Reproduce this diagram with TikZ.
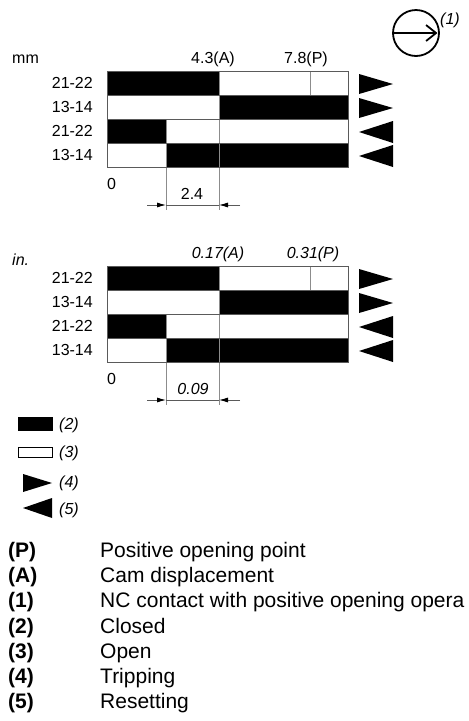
\documentclass[tikz,border=0pt]{standalone}
\usepackage{fontspec}
\setmainfont{Liberation Sans}
\usetikzlibrary{arrows.meta}
\definecolor{gridc}{RGB}{90,90,90}
\definecolor{sepc}{RGB}{140,140,140}
\begin{document}
\begin{tikzpicture}[x=1pt,y=-1pt,
  lbl/.style={font=\fontsize{16}{16}\selectfont, inner sep=0pt},
  ilbl/.style={font=\fontsize{16}{16}\selectfont\itshape, inner sep=0pt},
  leg/.style={font=\fontsize{21}{21}\selectfont, inner sep=0pt, anchor=base west},
  legb/.style={font=\fontsize{21}{21}\selectfont\bfseries, inner sep=0pt, anchor=base west},
  barline/.style={draw=gridc, line width=0.9pt},
  sepline/.style={draw=sepc, line width=0.9pt},
  dimline/.style={draw=gridc, line width=0.8pt},
  dimtip/.style={dimline, -{Latex[length=9pt,width=5pt,color=black]}},
  tri/.style={fill=black}
]
\useasboundingbox (0,0) rectangle (469,721);

% ---------- symbol (1)
\node[draw=black, line width=1.8pt, circle, minimum size=46pt, inner sep=0pt] (sym) at (416,33) {};
\coordinate (symL) at (394,33);
\coordinate (symR) at (437.5,33);
\draw[line width=1.8pt, -{Straight Barb[length=10pt,width=16pt,line width=1.8pt]}] (symL) -- (symR);
\node[ilbl, anchor=base west] (s1) at (440,24) {(1)};

% ---------- charts
\foreach \o/\pre in {0/a, 195/b}{
  \fill[black] (107,71+\o) rectangle (219,95+\o);
  \fill[black] (219,95+\o) rectangle (348,119+\o);
  \fill[black] (107,119+\o) rectangle (166,143+\o);
  \fill[black] (166,143+\o) rectangle (348,167+\o);
  \draw[sepline] (310,71+\o) -- (310,95+\o);
  \draw[sepline] (219,71+\o) -- (219,210+\o);
  \draw[sepline] (166,119+\o) -- (166,210+\o);
  \draw[barline] (107,95+\o) -- (348,95+\o);
  \draw[barline] (107,119+\o) -- (348,119+\o);
  \draw[barline] (107,143+\o) -- (348,143+\o);
  \draw[barline] (107,71+\o) rectangle (348,167+\o);
  \fill[black] (359,74+\o) -- (393,84+\o) -- (359,94+\o) -- cycle;
  \fill[black] (359,98+\o) -- (393,108+\o) -- (359,118+\o) -- cycle;
  \fill[black] (393,121+\o) -- (359,132+\o) -- (393,143+\o) -- cycle;
  \fill[black] (393,145+\o) -- (359,156+\o) -- (393,167+\o) -- cycle;
  \node[lbl, anchor=base east] (\pre r1) at (93,88.7+\o) {21-22};
  \node[lbl, anchor=base east] (\pre r2) at (93,112.7+\o) {13-14};
  \node[lbl, anchor=base east] (\pre r3) at (93,136.7+\o) {21-22};
  \node[lbl, anchor=base east] (\pre r4) at (93,160.7+\o) {13-14};
  \node[lbl, anchor=base west] (\pre zero) at (107,189+\o) {0};
  \coordinate (\pre dl) at (147,205+\o);
  \coordinate (\pre dr) at (240,205+\o);
  \coordinate (\pre d1) at (166,205+\o);
  \coordinate (\pre d2) at (219,205+\o);
  \draw[dimline] (\pre d1) -- (\pre d2);
  \draw[dimtip] (\pre dl) -- (\pre d1);
  \draw[dimtip] (\pre dr) -- (\pre d2);
}

% top chart texts
\node[lbl, anchor=base west] (mm) at (12,63.7) {mm};
\node[lbl, anchor=base] (a43) at (213,63.7) {4.3(A)};
\node[lbl, anchor=base] (p78) at (306,63.7) {7.8(P)};
\node[lbl, anchor=base] (d24) at (192,199) {2.4};

% bottom chart texts
\node[ilbl, anchor=base west] (inch) at (12,265) {in.};
\node[ilbl, anchor=base] (a017) at (218,258.7) {0.17(A)};
\node[ilbl, anchor=base] (p031) at (313,258.7) {0.31(P)};
\node[ilbl, anchor=base] (d009) at (193,394) {0.09};

% ---------- legend symbols
\fill[black] (18,417) rectangle (53,431);
\draw[black, line width=1.4pt] (18.7,447.7) rectangle (52.3,457.3);
\fill[black] (23,474) -- (52,483) -- (23,492) -- cycle;
\fill[black] (52,498) -- (23,508) -- (52,518) -- cycle;
\node[ilbl, anchor=base west] (l2) at (59,429.5) {(2)};
\node[ilbl, anchor=base west] (l3) at (59,457.5) {(3)};
\node[ilbl, anchor=base west] (l4) at (59,487.5) {(4)};
\node[ilbl, anchor=base west] (l5) at (59,514.5) {(5)};

% ---------- legend text
\node[legb] (kP) at (8,557.5) {(P)};
\node[leg]  (tP) at (100,557.5) {Positive opening point};
\node[legb] (kA) at (8,582.7) {(A)};
\node[leg]  (tA) at (100,582.7) {Cam displacement};
\node[legb] (k1) at (8,607.9) {(1)};
\node[leg]  (t1) at (100,607.9) {NC contact with positive opening opera};
\node[legb] (k2) at (8,633.1) {(2)};
\node[leg]  (t2) at (100,633.1) {Closed};
\node[legb] (k3) at (8,658.3) {(3)};
\node[leg]  (t3) at (100,658.3) {Open};
\node[legb] (k4) at (8,683.5) {(4)};
\node[leg]  (t4) at (100,683.5) {Tripping};
\node[legb] (k5) at (8,708.7) {(5)};
\node[leg]  (t5) at (100,708.7) {Resetting};
\end{tikzpicture}
\end{document}
